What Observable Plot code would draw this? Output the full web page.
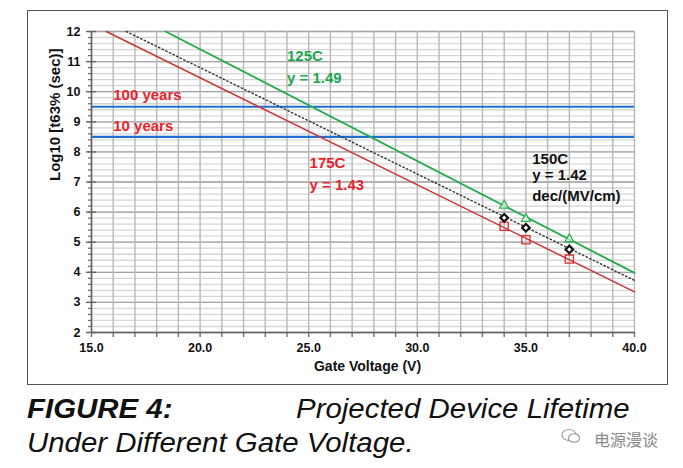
<!DOCTYPE html>
<html>
<head>
<meta charset="utf-8">
<script src="https://cdn.jsdelivr.net/npm/d3@7"></script>
<script src="https://cdn.jsdelivr.net/npm/@observablehq/plot@0.6"></script>
<style>
  html, body { margin: 0; padding: 0; background: #fff; }
  #wrap { position: relative; width: 683px; height: 468px; overflow: hidden; font-family: "Liberation Sans", Arial, sans-serif; }
  #frame { position: absolute; left: 27px; top: 10px; width: 641px; height: 375px; border: 1.6px solid #555; pointer-events: none; box-sizing: border-box; }
  .cap { position: absolute; font-size: 27px; line-height: 27px; font-style: italic; color: #111; transform: scaleX(1.09); transform-origin: left; white-space: pre; }
  #wm { position: absolute; left: 594px; top: 427px; font-family: "Noto Sans CJK SC", sans-serif; font-size: 16px; color: #8a8a8a; }
  #wmi { position: absolute; left: 561px; top: 428px; width: 20px; height: 16px; }
</style>
</head>
<body>
<div id="wrap">
  <div id="chart"></div>
  <div id="frame"></div>
  <div class="cap" style="top:396px; left:27px"><b>FIGURE 4:</b></div>
  <div class="cap" style="top:396px; left:296px">Projected Device Lifetime</div>
  <div class="cap" style="top:430px; left:27px">Under Different Gate Voltage.</div>
  <svg id="wmi" viewBox="0 0 20 16"><ellipse cx="8" cy="7" rx="7" ry="5.5" fill="none" stroke="#999" stroke-width="1.1"/><ellipse cx="13" cy="10" rx="5.5" ry="4.3" fill="#fff" stroke="#999" stroke-width="1.1"/></svg>
  <div id="wm">电源漫谈</div>
</div>
<script>
// ---- data ----
const voltage = [34, 35, 37];
const t125 = [6.22, 5.78, 5.10];
const t150 = [5.81, 5.48, 4.76];
const t175 = [5.53, 5.08, 4.44];

// fitted lines (end points)
const fit125V = [18.41, 40]; const fit125T = [12, 3.98];
const fit150V = [16.6, 40];  const fit150T = [12, 3.73];
const fit175V = [15.68, 40]; const fit175T = [12, 3.35];

const limits = [9.5, 8.5];

const labelText = ["100 years", "10 years", "125C", "y = 1.49", "175C", "y = 1.43", "150C", "y = 1.42", "dec/(MV/cm)"];
const labelV = [16.0, 16.0, 24.0, 24.0, 25.04, 25.04, 35.29, 35.29, 35.29];
const labelT = [9.87, 8.87, 11.19, 10.45, 7.62, 6.88, 7.77, 7.22, 6.53];
const labelColor = ["#e8232b", "#e8232b", "#1ea64e", "#1ea64e", "#e8232b", "#e8232b", "#111", "#111", "#111"];

const xMajor = [15, 20, 25, 30, 35, 40];
const xTicks = d3.range(15, 41, 1);
const yMajor = d3.range(2, 13, 1);
const yMinor = d3.range(0, 51).map(i => 2 + i * 0.2);

const pts = (ys) => voltage.map((v, i) => ({v, t: ys[i]}));
const fit = (vs, ts) => vs.map((v, i) => ({v, t: ts[i]}));
const labels = labelText.map((s, i) => ({s, v: labelV[i], t: labelT[i], c: labelColor[i]}));

const chart = Plot.plot({
  width: 683,
  height: 390,
  marginLeft: 91,
  marginRight: 49,
  marginTop: 31,
  marginBottom: 58,
  style: {fontFamily: "'Liberation Sans', Arial, sans-serif", background: "transparent"},
  x: {domain: [15, 40], label: null},
  y: {domain: [2, 12], label: null},
  marks: [
    Plot.gridY(yMinor, {stroke: "#d6d6d6", strokeOpacity: 1, strokeWidth: 1.3}),
    Plot.gridY(yMajor, {stroke: "#a4a4a4", strokeOpacity: 1, strokeWidth: 1.3}),
    Plot.gridX(xTicks, {stroke: "#b8b8b8", strokeOpacity: 1, strokeWidth: 1.4}),
    Plot.ruleY(limits, {stroke: "#1f6fd0", strokeWidth: 2.2}),
    Plot.line(fit(fit175V, fit175T), {x: "v", y: "t", stroke: "#cc3535", strokeWidth: 1.5}),
    Plot.line(fit(fit150V, fit150T), {x: "v", y: "t", stroke: "#333", strokeWidth: 1.4, strokeDasharray: "1.4,2.6"}),
    Plot.line(fit(fit125V, fit125T), {x: "v", y: "t", stroke: "#22aa4a", strokeWidth: 1.8}),
    Plot.dot(pts(t125), {x: "v", y: "t", symbol: "triangle", r: 3.3, stroke: "#2bb04f", strokeWidth: 1.3, fill: "white", fillOpacity: 0.6}),
    Plot.dot(pts(t175), {x: "v", y: "t", symbol: "square", r: 4.6, stroke: "#d83030", strokeWidth: 1.3, fill: "none"}),
    Plot.dot(pts(t150), {x: "v", y: "t", symbol: "diamond2", r: 3.4, stroke: "#111", strokeWidth: 2.2, fill: "white"}),
    Plot.text(labels, {x: "v", y: "t", text: "s", fill: "c", textAnchor: "start", lineAnchor: "middle", fontSize: 15, fontWeight: "bold"}),
    // axes
    Plot.ruleX([15], {stroke: "#666", strokeWidth: 1.6}),
    Plot.ruleY([2], {stroke: "#666", strokeWidth: 1.6}),
    Plot.axisY({ticks: yMinor, tickSize: 3, text: null, label: null, stroke: "#666", strokeWidth: 1.2}),
    Plot.axisY({ticks: yMajor, tickSize: 10, dx: 5, text: null, label: null, stroke: "#666", strokeWidth: 1.4}),
    Plot.axisY({ticks: yMajor, tickSize: 0, tickPadding: 11, fontSize: 12.5, fontWeight: "bold", fill: "#111", label: null}),
    Plot.axisX({ticks: xTicks, tickSize: 5, text: null, label: null, stroke: "#666", strokeWidth: 1.3}),
    Plot.axisX({ticks: xMajor, tickSize: 0, tickPadding: 11, tickFormat: d => d.toFixed(1), fontSize: 12.5, fontWeight: "bold", fill: "#111", label: null}),
    Plot.text(["Gate Voltage (V)"], {frameAnchor: "bottom", dy: 34, dx: 4.5, lineAnchor: "middle", fontSize: 14, fontWeight: "bold", fill: "#111"}),
    Plot.text(["Log10 [t63% (sec)]"], {frameAnchor: "left", dx: -36, dy: -1, rotate: -90, lineAnchor: "middle", fontSize: 15, fontWeight: "bold", fill: "#111"})
  ]
});
document.getElementById("chart").appendChild(chart);
</script>
</body>
</html>
